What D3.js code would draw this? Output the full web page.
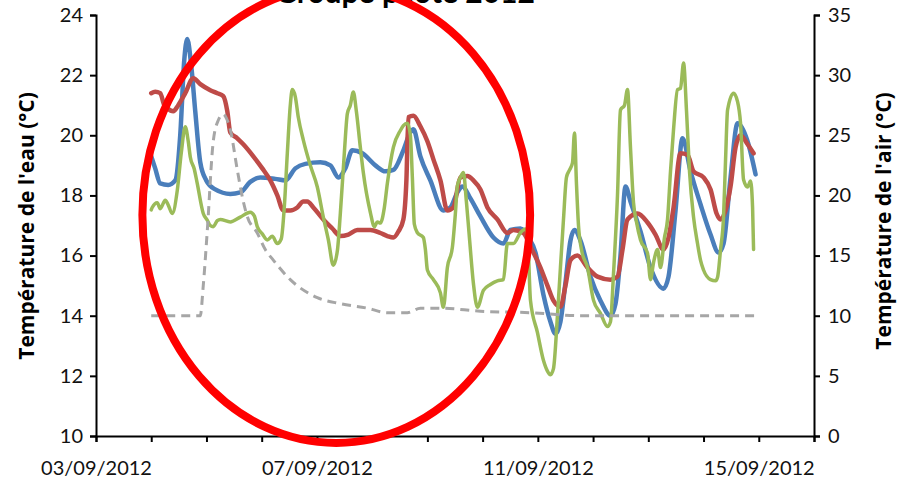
<!DOCTYPE html>
<html>
<head>
<meta charset="utf-8">
<script src="https://cdn.jsdelivr.net/npm/d3@7"></script>
<style>
  html, body { margin: 0; padding: 0; background: #fff; }
  svg { display: block; font-family: Lato, "Open Sans", sans-serif; }
</style>
</head>
<body>
<svg id="chart" width="907" height="482"></svg>
<script>
// Record starts 04/09/2012 00:00; each point is [days since start, °C]
const recordStart = new Date(2012, 8, 4);

// Water temperature, probe 1 (left axis)
const waterProbe1 = [
  [0,19.3],[0.072,18.9],[0.163,18.4],[0.308,18.35],[0.435,18.5],[0.525,20.0],[0.598,22.5],
  [0.652,23.2],[0.725,22.3],[0.797,20.8],[0.888,19.1],[0.996,18.5],[1.159,18.2],[1.431,18.05],
  [1.612,18.1],[1.793,18.45],[1.975,18.6],[2.246,18.55],[2.428,18.5],[2.609,18.9],[2.790,19.05],
  [3.062,19.1],[3.243,19.0],[3.388,18.6],[3.514,18.9],[3.641,19.5],[3.822,19.4],[4.058,19.0],
  [4.239,18.8],[4.384,18.85],[4.565,19.5],[4.692,20.1],[4.746,20.2],[4.873,19.3],[5.054,18.5],
  [5.290,17.5],[5.417,17.6],[5.543,18.1],[5.634,18.3],[5.779,17.9],[5.960,17.3],[6.196,16.6],
  [6.377,16.4],[6.504,16.85],[6.685,16.9],[6.830,16.6],[6.957,16.1],[7.101,14.7],[7.228,13.8],
  [7.319,13.4],[7.409,13.8],[7.500,15.1],[7.591,16.5],[7.663,16.85],[7.772,16.5],[7.953,15.3],
  [8.134,14.5],[8.315,14.0],[8.406,14.4],[8.496,16.0],[8.587,18.3],[8.677,17.8],[8.859,16.8],
  [9.040,15.6],[9.275,14.9],[9.366,15.3],[9.493,17.5],[9.620,19.9],[9.765,18.8],[9.946,17.7],
  [10.127,16.7],[10.272,16.1],[10.362,16.4],[10.489,18.6],[10.616,20.4],[10.797,19.8],[10.942,18.7]
];

// Water temperature, probe 2 (left axis)
const waterProbe2 = [
  [0,21.4],[0.072,21.45],[0.163,21.4],[0.236,21.0],[0.290,20.9],[0.399,20.8],[0.489,21.0],
  [0.616,21.4],[0.761,21.9],[0.888,21.7],[1.069,21.5],[1.196,21.4],[1.304,21.3],[1.377,20.8],
  [1.431,20.1],[1.558,19.9],[1.667,19.7],[1.848,19.3],[2.011,18.9],[2.156,18.5],[2.283,18.0],
  [2.391,17.5],[2.518,17.5],[2.645,17.6],[2.754,17.8],[2.826,17.8],[2.935,17.6],[3.116,17.2],
  [3.279,16.9],[3.424,16.65],[3.569,16.7],[3.732,16.85],[3.967,16.85],[4.149,16.75],[4.275,16.65],
  [4.384,16.6],[4.475,16.8],[4.565,17.2],[4.620,18.5],[4.656,20.6],[4.746,20.65],[4.873,20.3],
  [5.000,19.8],[5.109,19.2],[5.236,18.5],[5.362,17.5],[5.471,17.6],[5.598,18.6],[5.725,18.65],
  [5.833,18.5],[5.960,18.2],[6.087,17.6],[6.268,17.2],[6.449,16.75],[6.558,16.85],[6.739,16.75],
  [6.866,16.3],[7.047,15.6],[7.174,15.0],[7.283,14.5],[7.409,14.3],[7.500,15.0],[7.591,15.85],
  [7.717,16.0],[7.899,15.6],[8.080,15.3],[8.315,15.2],[8.442,15.3],[8.533,16.2],[8.623,17.2],
  [8.804,17.4],[8.986,17.1],[9.130,16.7],[9.275,16.2],[9.366,16.6],[9.457,17.6],[9.583,19.4],
  [9.710,19.35],[9.819,18.8],[10.000,18.6],[10.127,18.2],[10.236,17.4],[10.308,17.2],[10.399,17.5],
  [10.489,18.3],[10.580,19.6],[10.670,20.0],[10.797,19.7],[10.906,19.4]
];

// Air temperature (right axis)
const airTemp = [
  [0,18.8],[0.018,19.0],[0.109,19.4],[0.163,18.9],[0.254,19.6],[0.308,19.2],[0.380,18.5],
  [0.471,20.4],[0.543,23.5],[0.616,25.7],[0.670,24.5],[0.707,23.2],[0.779,22.2],[0.833,21.0],
  [0.942,18.5],[1.014,17.95],[1.069,17.5],[1.123,17.4],[1.196,17.9],[1.250,18.0],[1.431,17.8],
  [1.612,18.2],[1.793,18.6],[1.866,18.3],[1.920,17.4],[2.011,16.8],[2.101,16.3],[2.192,16.6],
  [2.283,16.0],[2.355,16.4],[2.409,19.0],[2.464,23.5],[2.518,27.5],[2.554,28.8],[2.609,28.2],
  [2.663,26.5],[2.754,24.6],[2.880,22.5],[3.007,20.7],[3.116,18.2],[3.207,16.3],[3.297,14.2],
  [3.370,15.4],[3.424,18.5],[3.496,23.5],[3.551,26.8],[3.605,27.5],[3.659,28.6],[3.714,27.0],
  [3.786,24.0],[3.840,21.9],[3.967,18.6],[4.040,17.4],[4.094,17.8],[4.149,17.7],[4.221,19.0],
  [4.275,21.0],[4.384,24.0],[4.511,25.4],[4.565,25.8],[4.638,26.0],[4.692,25.0],[4.728,21.5],
  [4.764,17.6],[4.819,16.9],[4.927,16.5],[4.964,15.5],[5.000,13.8],[5.109,13.0],[5.236,11.9],
  [5.290,10.7],[5.362,14.0],[5.453,15.7],[5.507,18.5],[5.543,20.8],[5.598,21.5],[5.652,21.9],
  [5.706,19.5],[5.761,16.5],[5.833,12.7],[5.906,10.7],[6.014,12.1],[6.141,12.6],[6.268,12.9],
  [6.377,13.0],[6.449,16.0],[6.558,16.0],[6.685,16.9],[6.775,17.2],[6.812,16.8],[6.866,11.3],
  [6.993,8.6],[7.101,6.3],[7.174,5.4],[7.228,5.1],[7.283,5.6],[7.355,10.0],[7.409,14.0],
  [7.464,18.0],[7.518,21.5],[7.572,22.1],[7.627,22.7],[7.663,25.2],[7.699,21.0],[7.736,17.5],
  [7.790,15.5],[7.899,14.0],[8.007,11.3],[8.134,10.2],[8.261,9.1],[8.315,9.5],[8.370,13.5],
  [8.442,20.0],[8.496,27.1],[8.569,27.5],[8.623,28.8],[8.677,24.0],[8.732,19.4],[8.786,17.8],
  [8.859,16.3],[8.986,15.2],[9.040,13.0],[9.094,14.4],[9.167,15.5],[9.221,14.0],[9.293,16.5],
  [9.348,18.0],[9.402,22.0],[9.457,25.5],[9.529,28.8],[9.583,28.9],[9.638,31.0],[9.692,27.0],
  [9.746,22.0],[9.819,18.2],[9.891,16.0],[9.946,14.6],[10.000,13.8],[10.127,13.0],[10.217,12.9],
  [10.254,13.2],[10.308,15.5],[10.362,18.2],[10.399,23.0],[10.435,27.1],[10.543,28.5],[10.616,27.8],
  [10.670,26.0],[10.725,21.3],[10.797,20.7],[10.851,21.2],[10.888,19.0],[10.906,15.5]
];

// Reference water temperature, dashed (left axis)
const referenceTemp = [
  [0,14.0],[0.888,14.0],[0.942,15.0],[1.014,16.8],[1.123,19.8],[1.214,20.5],[1.304,20.7],
  [1.377,20.5],[1.431,20.2],[1.558,18.85],[1.667,17.8],[1.739,17.3],[1.920,16.75],[2.065,16.2],
  [2.210,15.85],[2.518,15.2],[3.007,14.6],[3.424,14.4],[3.913,14.25],[4.275,14.1],[4.638,14.1],
  [4.873,14.25],[5.236,14.25],[5.960,14.15],[6.866,14.1],[7.772,14.0],[9.040,14.0],[10.942,14.0]
];

const leftTicks = [10, 12, 14, 16, 18, 20, 22, 24];
const rightTicks = [0, 5, 10, 15, 20, 25, 30, 35];
const dateLabels = ["03/09/2012", "07/09/2012", "11/09/2012", "15/09/2012"];

// Highlighted period: centre and half-extents in data units (days, °C)
const highlightCentre = [3.35, 17.35];
const highlightHalf = [3.51, 7.58];

const svg = d3.select("#chart");
const toDate = d => new Date(recordStart.getTime() + d * 864e5);

const x = d3.scaleTime()
  .domain([new Date(2012, 8, 3), new Date(2012, 8, 16)])
  .range([96, 814]);
const yL = d3.scaleLinear().domain([10, 24]).range([436, 15]);
const yR = d3.scaleLinear().domain([0, 35]).range([436, 15]);

// Title, mostly above the top edge
svg.append("text")
  .attr("x", 405).attr("y", 3)
  .attr("text-anchor", "middle")
  .attr("font-size", 30).attr("font-weight", "bold")
  .text("Groupe pilote 2012");

// Axes
const fmt = d3.timeFormat("%d/%m/%Y");
const xAxis = d3.axisBottom(x)
  .ticks(d3.timeDay.every(1))
  .tickSizeOuter(0).tickSize(6).tickPadding(19)
  .tickFormat(d => dateLabels.includes(fmt(d)) ? fmt(d) : "");
const gx = svg.append("g").attr("transform", "translate(0,436)").call(xAxis);

const gl = svg.append("g").attr("transform", "translate(96,0)")
  .call(d3.axisLeft(yL).tickValues(leftTicks).tickSizeOuter(0).tickSize(6).tickPadding(7));
const gr = svg.append("g").attr("transform", "translate(814,0)")
  .call(d3.axisRight(yR).tickValues(rightTicks).tickSizeOuter(0).tickSize(6).tickPadding(8));

[gx, gl, gr].forEach(g => {
  g.select(".domain").attr("stroke", "#000").attr("stroke-width", 2);
  g.selectAll(".tick line").attr("stroke", "#000").attr("stroke-width", 2);
  g.selectAll(".tick text").attr("font-size", 20).attr("fill", "#111")
    .attr("font-family", "Lato, 'Open Sans', sans-serif");
});

// Axis titles
svg.append("text")
  .attr("transform", "translate(34,226) rotate(-90)")
  .attr("text-anchor", "middle")
  .attr("font-family", "'Open Sans', Lato, sans-serif")
  .attr("font-size", 21).attr("font-weight", "bold")
  .text("Température de l'eau (°C)");
svg.append("text")
  .attr("transform", "translate(891,221) rotate(-90)")
  .attr("text-anchor", "middle")
  .attr("font-family", "'Open Sans', Lato, sans-serif")
  .attr("font-size", 21).attr("font-weight", "bold")
  .text("Température de l'air (°C)");

// Series
const lineL = d3.line().x(d => x(toDate(d[0]))).y(d => yL(d[1])).curve(d3.curveMonotoneX);
const lineR = d3.line().x(d => x(toDate(d[0]))).y(d => yR(d[1])).curve(d3.curveMonotoneX);

const plot = svg.append("g").attr("fill", "none").attr("stroke-linejoin", "round").attr("stroke-linecap", "round");
plot.append("path").datum(waterProbe1).attr("d", lineL)
  .attr("stroke", "#4a7ebb").attr("stroke-width", 4.5);
plot.append("path").datum(waterProbe2).attr("d", lineL)
  .attr("stroke", "#be4b48").attr("stroke-width", 4.5);
plot.append("path").datum(airTemp).attr("d", lineR)
  .attr("stroke", "#9bbb59").attr("stroke-width", 3.5);
plot.append("path").datum(referenceTemp).attr("d", lineL)
  .attr("stroke", "#a6a6a6").attr("stroke-width", 3).attr("stroke-linecap", "butt")
  .attr("stroke-dasharray", "9,6");

// Highlight ellipse around the first week
const cx = x(toDate(highlightCentre[0]));
const cy = yL(highlightCentre[1]);
svg.append("ellipse")
  .attr("cx", cx).attr("cy", cy)
  .attr("rx", x(toDate(highlightCentre[0] + highlightHalf[0])) - cx)
  .attr("ry", yL(highlightCentre[1] - highlightHalf[1]) - cy)
  .attr("fill", "none").attr("stroke", "#ff0000").attr("stroke-width", 8);
</script>
</body>
</html>
